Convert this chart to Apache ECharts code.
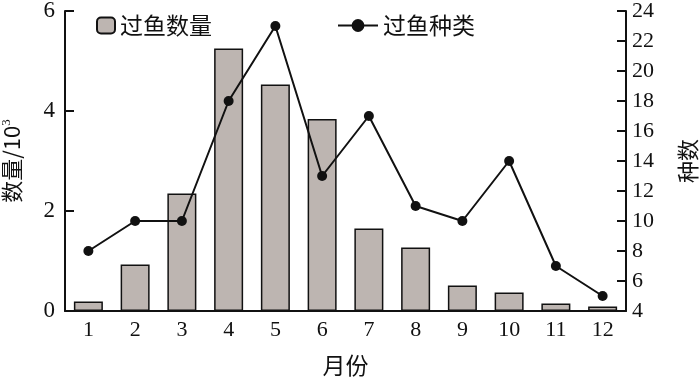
<!DOCTYPE html>
<html><head><meta charset="utf-8">
<script src="https://cdn.jsdelivr.net/npm/echarts@6/dist/echarts.min.js"></script>
<style>html,body{margin:0;padding:0;background:#fff}#c{width:700px;height:378px}</style>
</head><body><div id="c"></div>
<script>
const months = ['1','2','3','4','5','6','7','8','9','10','11','12'];
const fishCount = [0.19, 0.93, 2.35, 5.25, 4.53, 3.84, 1.65, 1.27, 0.51, 0.37, 0.15, 0.09];
const fishSpecies = [8, 10, 10, 18, 23, 13, 17, 11, 10, 14, 7, 5];
const leftTicks = [0, 2, 4, 6];
const rightTicks = [4, 6, 8, 10, 12, 14, 16, 18, 20, 22, 24];

const serif = '"Liberation Serif", "Noto Sans CJK SC", serif';
const cjk = '"Noto Sans CJK SC", "Liberation Serif", sans-serif';
const chart = echarts.init(document.getElementById('c'));
chart.setOption({
  animation: false,
  grid: {left: 65, right: 74, top: 11, bottom: 67, outerBoundsMode: 'none', containLabel: false},
  legend: [
    {data: ['过鱼数量'], left: 91, top: 9, itemWidth: 18, itemHeight: 16, itemGap: 8,
     textStyle: {fontFamily: cjk, fontSize: 23, color: '#111'}},
    {data: ['过鱼种类'], left: 332, top: 9, itemWidth: 40, itemHeight: 16, itemGap: 8,
     textStyle: {fontFamily: cjk, fontSize: 23, color: '#111'}}
  ],
  xAxis: {
    type: 'category', data: months, boundaryGap: true,
    name: '月份', nameLocation: 'middle', nameGap: 43,
    nameTextStyle: {fontFamily: cjk, fontSize: 23, color: '#111'},
    axisLine: {lineStyle: {color: '#111', width: 2}},
    axisTick: {show: false},
    axisLabel: {fontFamily: serif, fontSize: 22, color: '#111', margin: 8}
  },
  yAxis: [
    {type: 'value', min: leftTicks[0], max: leftTicks[leftTicks.length-1], interval: 2,
     name: '数量/10{s|3}', nameLocation: 'middle', nameGap: 42, nameRotate: 90,
     nameTextStyle: {fontFamily: cjk, fontSize: 22, color: '#111',
       rich: {s: {fontFamily: serif, fontSize: 13, verticalAlign: 'top', padding: [0,0,10,0], color: '#111'}}},
     axisLine: {show: true, lineStyle: {color: '#111', width: 2}},
     axisTick: {show: true, inside: true, length: 9, lineStyle: {color: '#111', width: 2}},
     splitLine: {show: false},
     axisLabel: {fontFamily: serif, fontSize: 23, color: '#111', margin: 10}},
    {type: 'value', min: rightTicks[0], max: rightTicks[rightTicks.length-1], interval: 2,
     name: '种数', nameLocation: 'middle', nameGap: 51, nameRotate: 90,
     nameTextStyle: {fontFamily: cjk, fontSize: 22, color: '#111'},
     axisLine: {show: true, lineStyle: {color: '#111', width: 2}},
     axisTick: {show: true, inside: true, length: 9, lineStyle: {color: '#111', width: 2}},
     splitLine: {show: false},
     axisLabel: {fontFamily: serif, fontSize: 22, color: '#111', margin: 6}}
  ],
  series: [
    {name: '过鱼数量', type: 'bar', data: fishCount, barWidth: 29, yAxisIndex: 0,
     itemStyle: {color: '#bdb5b1', borderColor: '#111', borderWidth: 1.5}},
    {name: '过鱼种类', type: 'line', data: fishSpecies, yAxisIndex: 1,
     symbol: 'circle', symbolSize: 10,
     lineStyle: {color: '#111', width: 2}, itemStyle: {color: '#111'}}
  ]
});
</script></body></html>
